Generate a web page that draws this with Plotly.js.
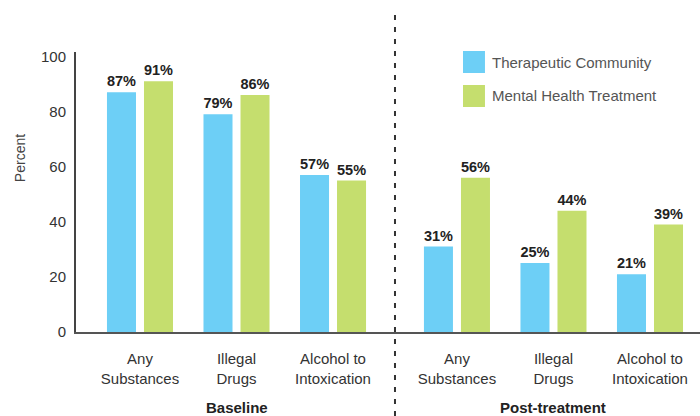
<!DOCTYPE html>
<html>
<head>
<meta charset="utf-8">
<script src="https://cdn.plot.ly/plotly-3.0.1.min.js"></script>
<style>html,body{margin:0;padding:0;background:#fff;}#chart{width:700px;height:416px;}</style>
</head>
<body>
<div id="chart"></div>
<script>
// ---- data ----
const categories = ["Any<br>Substances", "Illegal<br>Drugs", "Alcohol to<br>Intoxication"];
const groups = ["Baseline", "Post-treatment"];
const seriesNames = ["Therapeutic Community", "Mental Health Treatment"];
const tcBaseline = [87, 79, 57];
const mhBaseline = [91, 86, 55];
const tcPost = [31, 25, 21];
const mhPost = [56, 44, 39];
const yTicks = [0, 20, 40, 60, 80, 100];
const yTitle = "Percent";

// ---- styles ----
const BLUE = "#6DCFF6";
const GREEN = "#C5DE6E";
const FONT = "Liberation Sans, Arial, sans-serif";
const TEXTC = "#333333";

function bar(y, name, color, xa) {
  return {
    type: "bar", x: categories, y: y, name: name, xaxis: xa, yaxis: "y",
    marker: {color: color}, showlegend: false,
    texttemplate: "%{y}%", textposition: "outside", cliponaxis: false,
    textfont: {family: FONT, size: 15, color: "#222", weight: "bold"},
    hoverinfo: "skip"
  };
}

const data = [
  bar(tcBaseline, seriesNames[0], BLUE, "x"),
  bar(mhBaseline, seriesNames[1], GREEN, "x"),
  bar(tcPost, seriesNames[0], BLUE, "x2"),
  bar(mhPost, seriesNames[1], GREEN, "x2")
];

const split = 0.5112;
const xCommon = {
  type: "category", showline: true, linecolor: "#555", linewidth: 2,
  ticks: "", showgrid: false, zeroline: false, fixedrange: true, ticklabelstandoff: 12,
  tickfont: {family: FONT, size: 15, color: TEXTC}, anchor: "y"
};

const layout = {
  width: 700, height: 416,
  margin: {l: 76, r: 0, t: 52, b: 84},
  paper_bgcolor: "#fff", plot_bgcolor: "#fff",
  font: {family: FONT, color: TEXTC},
  barmode: "group", bargap: 0.233, bargroupgap: 0.216,
  xaxis: Object.assign({}, xCommon, {domain: [0, split], range: [-0.663, 2.642]}),
  xaxis2: Object.assign({}, xCommon, {domain: [split, 1], range: [-0.642, 2.518]}),
  yaxis: {
    range: [0, 101.6], tickvals: yTicks, showline: true, linecolor: "#444", linewidth: 2,
    ticks: "", showgrid: false, zeroline: false, ticklabelstandoff: 5,
    tickfont: {family: FONT, size: 15, color: TEXTC}, anchor: "x"
  },
  shapes: [
    {type: "line", xref: "paper", yref: "paper", x0: split, x1: split, y0: -0.3, y1: 1.14,
     line: {color: "#333", width: 2, dash: "5px,7px"}},
    {type: "rect", xref: "paper", yref: "paper", x0: 0.6202, x1: 0.6554, y0: 0.925, y1: 1.0036,
     fillcolor: BLUE, line: {width: 0}},
    {type: "rect", xref: "paper", yref: "paper", x0: 0.6202, x1: 0.6554, y0: 0.8036, y1: 0.8821,
     fillcolor: GREEN, line: {width: 0}}
  ],
  annotations: [
    {text: groups[0], xref: "x", x: 1, yref: "paper", y: -0.271, showarrow: false,
     font: {family: FONT, size: 15, color: "#222", weight: "bold"}, yanchor: "middle"},
    {text: groups[1], xref: "x2", x: 1, yref: "paper", y: -0.271, showarrow: false,
     font: {family: FONT, size: 15, color: "#222", weight: "bold"}, yanchor: "middle"},
    {text: yTitle, xref: "paper", x: -0.0897, xanchor: "center", yref: "paper", y: 0.621,
     yanchor: "middle", textangle: -90, showarrow: false,
     font: {family: FONT, size: 14, color: "#444"}},
    {text: seriesNames[0], xref: "paper", x: 0.6635, xanchor: "left", yref: "paper", y: 0.964,
     yanchor: "middle", showarrow: false, font: {family: FONT, size: 15, color: "#555"}},
    {text: seriesNames[1], xref: "paper", x: 0.6635, xanchor: "left", yref: "paper", y: 0.843,
     yanchor: "middle", showarrow: false, font: {family: FONT, size: 15, color: "#555"}}
  ]
};

Plotly.newPlot("chart", data, layout, {displayModeBar: false, staticPlot: true});
</script>
</body>
</html>
